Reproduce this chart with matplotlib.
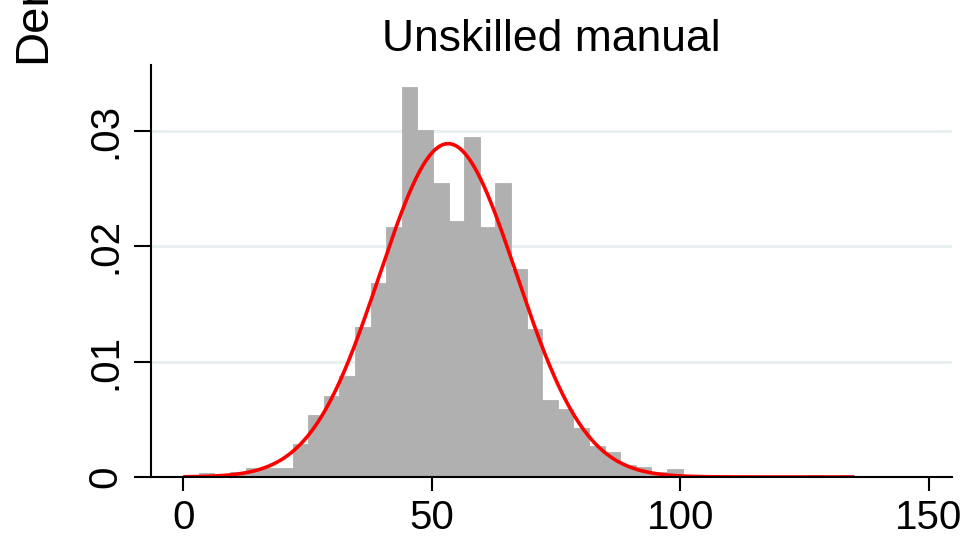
import numpy as np
import matplotlib
matplotlib.use("Agg")
import matplotlib.pyplot as plt

plt.rcParams['font.family'] = ['Liberation Sans', 'DejaVu Sans']

# ---- data ----
title = "Unskilled manual"
y_label = "Density"
data_min = 0.0
data_max = 135.0
densities = [0.00017, 0.00034, 0.00017, 0.00045, 0.00078, 0.00078, 0.00078,
             0.0029, 0.0054, 0.0070, 0.0088, 0.0130, 0.0168, 0.0217,
             0.0338, 0.0301, 0.0255, 0.0222, 0.0295, 0.0217, 0.0255,
             0.0180, 0.0128, 0.0067, 0.0059, 0.00425, 0.0027, 0.0022,
             0.00104, 0.00084, 0.00043, 0.00072, 0.00017, 0.0, 0.00017,
             0.0, 0.0, 0.0, 0.0, 0.0, 0.00017, 0.0, 0.00017]
normal_mean = 53.3
normal_sd = 13.8
x_ticks = [0, 50, 100, 150]
x_tick_labels = ["0", "50", "100", "150"]
y_ticks = [0, 0.01, 0.02, 0.03]
y_tick_labels = ["0", ".01", ".02", ".03"]

# ---- figure ----
W, H = 969, 541
fig = plt.figure(figsize=(W / 100, H / 100), dpi=100)
ax = fig.add_axes([151 / W, 1 - 477 / H, (952 - 151) / W, (477 - 65) / H])

n_bins = len(densities)
edges = np.linspace(data_min, data_max, n_bins + 1)
width = edges[1] - edges[0]

for yv in y_ticks[1:]:
    ax.axhline(yv, color='#e9f0f1', lw=2.2, zorder=0)

ax.bar(edges[:-1], densities, width=width, align='edge',
       color='#b0b0b0', edgecolor='#b0b0b0', linewidth=0.6, zorder=2)

xs = np.linspace(data_min, data_max, 600)
pdf = np.exp(-0.5 * ((xs - normal_mean) / normal_sd) ** 2) / (normal_sd * np.sqrt(2 * np.pi))
ax.plot(xs, pdf, color='#ff0000', lw=2.6, zorder=3, solid_capstyle='butt')

ax.set_xlim(-6.5, 154.7)
ax.set_ylim(0, 0.03573)

for s in ['top', 'right']:
    ax.spines[s].set_visible(False)
for s in ['left', 'bottom']:
    ax.spines[s].set_linewidth(1.5)
    ax.spines[s].set_color('black')
    ax.spines[s].set_zorder(4)

ax.set_xticks(x_ticks)
ax.set_xticklabels(x_tick_labels, fontsize=29)
ax.set_yticks(y_ticks)
ax.set_yticklabels(y_tick_labels, fontsize=29, rotation=90, va='center')
ax.tick_params(axis='x', length=10, width=1.5, pad=6)
ax.tick_params(axis='y', length=12, width=1.5, pad=7)

ax.set_title(title, fontsize=32, pad=10)

fig.text(33 / W, 1 - 63 / H, y_label, rotation=90, ha='center', va='bottom', fontsize=34)

fig.savefig("out.png", dpi=100)
